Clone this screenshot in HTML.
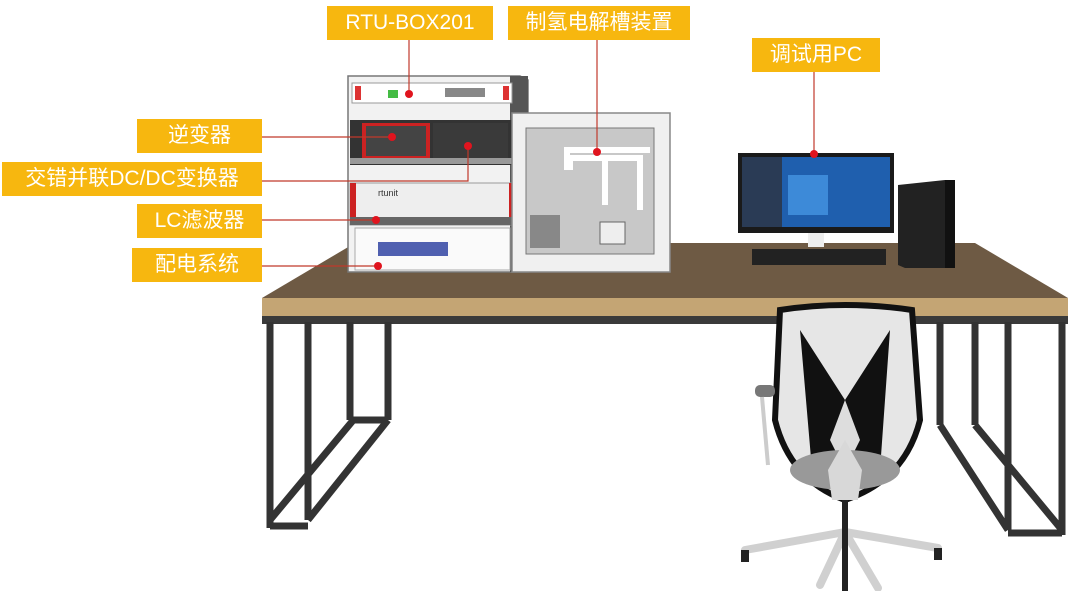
<!DOCTYPE html>
<html><head><meta charset="utf-8"><style>
html,body{margin:0;padding:0;background:#fff;}
body{width:1080px;height:591px;overflow:hidden;position:relative;font-family:"Liberation Sans","Noto Sans CJK SC",sans-serif;}
.lb{position:absolute;background:#f7b70f;color:#fff;font-size:21px;line-height:34px;height:34px;text-align:center;white-space:nowrap;}
svg{position:absolute;left:0;top:0;}
</style></head><body>
<svg width="1080" height="591" viewBox="0 0 1080 591">
  <!-- table top -->
  <polygon points="355,243 975,243 1068,298 262,298" fill="#6e5a44"/>
  <rect x="262" y="298" width="806" height="18" fill="#c4a574"/>
  <rect x="262" y="316" width="806" height="8" fill="#3a3a3a"/>
  <!-- left legs -->
  <g stroke="#333" stroke-width="7" fill="none">
    <line x1="270" y1="322" x2="270" y2="528"/>
    <line x1="308" y1="322" x2="308" y2="520"/>
    <line x1="270" y1="526" x2="308" y2="526"/>
    <line x1="308" y1="520" x2="388" y2="420"/>
    <line x1="270" y1="520" x2="355" y2="418"/>
    <line x1="350" y1="322" x2="350" y2="420"/>
    <line x1="388" y1="322" x2="388" y2="420"/>
    <line x1="350" y1="420" x2="388" y2="420"/>
    <!-- right legs -->
    <line x1="1062" y1="322" x2="1062" y2="535"/>
    <line x1="1008" y1="322" x2="1008" y2="530"/>
    <line x1="1008" y1="533" x2="1062" y2="533"/>
    <line x1="1008" y1="530" x2="940" y2="425"/>
    <line x1="1062" y1="530" x2="975" y2="425"/>
    <line x1="940" y1="322" x2="940" y2="425"/>
    <line x1="975" y1="322" x2="975" y2="425"/>
  </g>
  <!-- chair -->
  <g>
    <path d="M780,310 Q845,300 912,310 L920,420 Q905,480 845,500 Q790,480 775,420 Z" fill="#e6e6e6" stroke="#111" stroke-width="6"/>
    <path d="M800,330 L845,400 L890,330 L880,470 L845,500 L812,470 Z" fill="#111"/>
    <path d="M845,400 L860,440 L845,470 L830,440 Z" fill="#ddd"/>
    <ellipse cx="845" cy="470" rx="55" ry="20" fill="#999"/>
    <path d="M828,470 L845,440 L862,470 L858,500 L832,500 Z" fill="#d8d8d8"/>
    <rect x="755" y="385" width="20" height="12" rx="5" fill="#777"/>
    <line x1="762" y1="397" x2="768" y2="465" stroke="#ccc" stroke-width="4"/>
    <rect x="842" y="500" width="6" height="30" fill="#222"/>
    <g stroke="#d0d0d0" stroke-width="8" stroke-linecap="round">
      <line x1="845" y1="532" x2="745" y2="550"/>
      <line x1="845" y1="532" x2="938" y2="548"/>
      <line x1="845" y1="532" x2="820" y2="585"/>
      <line x1="845" y1="532" x2="878" y2="588"/>
    </g>
    <rect x="741" y="550" width="8" height="12" fill="#222"/>
    <rect x="934" y="548" width="8" height="12" fill="#222"/>
    <rect x="842" y="525" width="6" height="66" fill="#222"/>
  </g>
  <!-- rack -->
  <polygon points="348,76 520,76 528,80 528,272 348,272" fill="#f2f2f2" stroke="#777" stroke-width="1.5"/>
  <rect x="510" y="76" width="18" height="196" fill="#555"/>
  <rect x="352" y="83" width="160" height="20" fill="#fff" stroke="#999"/>
  <rect x="355" y="86" width="6" height="14" fill="#d33"/><rect x="503" y="86" width="6" height="14" fill="#d33"/>
  <rect x="388" y="90" width="10" height="8" fill="#4b4"/><rect x="445" y="88" width="40" height="9" fill="#888"/>
  <rect x="350" y="120" width="165" height="45" fill="#333"/>
  <rect x="362" y="123" width="68" height="36" fill="#c22"/><rect x="366" y="126" width="60" height="30" fill="#444"/>
  <rect x="433" y="123" width="75" height="36" fill="#3a3a3a"/>
  <rect x="350" y="158" width="165" height="6" fill="#999"/>
  <rect x="350" y="183" width="165" height="42" fill="#eee" stroke="#999"/>
  <rect x="350" y="183" width="6" height="42" fill="#c22"/><rect x="509" y="183" width="6" height="42" fill="#c22"/>
  <text x="378" y="196" font-size="9" fill="#333">rtunit</text>
  <rect x="350" y="217" width="165" height="8" fill="#666"/>
  <rect x="355" y="228" width="155" height="42" fill="#fafafa" stroke="#aaa"/>
  <rect x="378" y="242" width="70" height="14" fill="#5060b0"/>
  <!-- electrolyzer -->
  <polygon points="512,113 670,113 670,272 512,272" fill="#f0f0f0" stroke="#888" stroke-width="1.5"/>
  <rect x="526" y="128" width="128" height="126" fill="#c8c8c8" stroke="#777"/>
  <path d="M567,170 V150 H650 M570,170 V158 H640 V210 M605,160 V205" stroke="#fff" stroke-width="6" fill="none"/>
  <rect x="530" y="215" width="30" height="33" fill="#888"/>
  <rect x="600" y="222" width="25" height="22" fill="#eee" stroke="#666"/>
  <!-- monitor -->
  <rect x="738" y="153" width="156" height="80" fill="#1a1a1a"/>
  <rect x="742" y="157" width="148" height="70" fill="#1f5fae"/>
  <rect x="742" y="157" width="40" height="70" fill="#2a3b55"/>
  <rect x="788" y="175" width="40" height="40" fill="#3d8ad8"/>
  <rect x="808" y="233" width="16" height="14" fill="#eee"/>
  <rect x="752" y="249" width="134" height="16" fill="#222"/>
  <polygon points="898,185 945,180 955,183 955,268 905,268 898,265" fill="#222"/>
  <rect x="945" y="180" width="10" height="88" fill="#111"/>
  <!-- connector lines -->
  <g stroke="#c0392b" stroke-width="1.2" fill="none">
    <line x1="409" y1="40" x2="409" y2="94"/>
    <line x1="597" y1="40" x2="597" y2="152"/>
    <line x1="814" y1="72" x2="814" y2="154"/>
    <line x1="262" y1="137" x2="392" y2="137"/>
    <polyline points="262,181 468,181 468,146"/>
    <line x1="262" y1="220" x2="376" y2="220"/>
    <line x1="262" y1="266" x2="378" y2="266"/>
  </g>
  <g fill="#e0141e">
    <circle cx="409" cy="94" r="4"/><circle cx="597" cy="152" r="4"/><circle cx="814" cy="154" r="4"/>
    <circle cx="392" cy="137" r="4"/><circle cx="468" cy="146" r="4"/><circle cx="376" cy="220" r="4"/><circle cx="378" cy="266" r="4"/>
  </g>
</svg>
<div class="lb" style="left:327px;top:6px;width:166px;">RTU-BOX201</div>
<div class="lb" style="left:508px;top:6px;width:182px;">制氢电解槽装置</div>
<div class="lb" style="left:752px;top:38px;width:128px;">调试用PC</div>
<div class="lb" style="left:137px;top:119px;width:125px;">逆变器</div>
<div class="lb" style="left:2px;top:162px;width:260px;">交错并联DC/DC变换器</div>
<div class="lb" style="left:137px;top:204px;width:125px;">LC滤波器</div>
<div class="lb" style="left:132px;top:248px;width:130px;">配电系统</div>
</body></html>
